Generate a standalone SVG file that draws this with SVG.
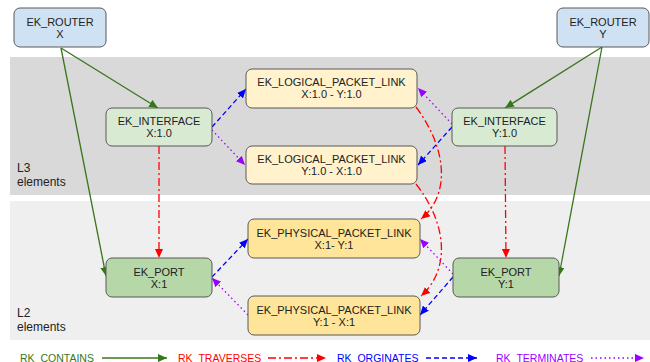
<svg xmlns="http://www.w3.org/2000/svg" width="650" height="362" viewBox="0 0 650 362">
<style>
.node rect{stroke:#595959;stroke-width:1}
.t{font-family:"Liberation Sans",Arial,sans-serif;font-size:11px;fill:#222;text-anchor:middle}
.band{font-family:"Liberation Sans",Arial,sans-serif;font-size:12px;fill:#222}
.lg{font-family:"Liberation Sans",Arial,sans-serif;font-size:10.5px}
.c{stroke:#38761d;stroke-width:1.3;fill:none}
.r{stroke:#ff0000;stroke-width:1.3;fill:none;stroke-dasharray:8,3,2,3}
.b{stroke:#0000ff;stroke-width:1.3;fill:none;stroke-dasharray:5,3}
.p{stroke:#9900ff;stroke-width:1.3;fill:none;stroke-dasharray:1.5,3}
</style>
<defs>
<marker id="mg" markerWidth="10" markerHeight="8" refX="9" refY="4" orient="auto" markerUnits="userSpaceOnUse"><path d="M0,0 L9,4 L0,8 z" fill="#38761d"/></marker>
<marker id="mr" markerWidth="10" markerHeight="8" refX="9" refY="4" orient="auto" markerUnits="userSpaceOnUse"><path d="M0,0 L9,4 L0,8 z" fill="#ff0000"/></marker>
<marker id="mb" markerWidth="10" markerHeight="8" refX="9" refY="4" orient="auto" markerUnits="userSpaceOnUse"><path d="M0,0 L9,4 L0,8 z" fill="#0000ff"/></marker>
<marker id="mp" markerWidth="10" markerHeight="8" refX="9" refY="4" orient="auto" markerUnits="userSpaceOnUse"><path d="M0,0 L9,4 L0,8 z" fill="#9900ff"/></marker>
</defs>
<rect width="650" height="362" fill="#ffffff"/>
<g id="bands">
<rect x="10" y="57" width="640" height="138" fill="#d9d9d9"/>
<rect x="10" y="201" width="640" height="139" fill="#efefef"/>
<text class="band" x="17" y="172">L3</text>
<text class="band" x="17" y="186">elements</text>
<text class="band" x="17" y="317">L2</text>
<text class="band" x="17" y="331">elements</text>
</g>
<g id="connectors">
<path class="c" d="M61,48 L158,108" marker-end="url(#mg)"/>
<path class="c" d="M61,48 L106,276" marker-end="url(#mg)"/>
<path class="c" d="M602,47 L505,108" marker-end="url(#mg)"/>
<path class="c" d="M602,47 L559,276" marker-end="url(#mg)"/>
<path class="r" d="M159,146 L159,258" marker-end="url(#mr)"/>
<path class="r" d="M505,146 L506,258" marker-end="url(#mr)"/>
<path class="r" d="M416,107 C448,150 450,195 421,219" marker-end="url(#mr)"/>
<path class="r" d="M416,184 C448,225 450,270 421,296" marker-end="url(#mr)"/>
<path class="b" d="M212,127 L246,89" marker-end="url(#mb)"/>
<path class="b" d="M452,127 L418,165" marker-end="url(#mb)"/>
<path class="b" d="M212,277 L248,239" marker-end="url(#mb)"/>
<path class="b" d="M453,277 L420,315" marker-end="url(#mb)"/>
<path class="p" d="M212,130 L245,165" marker-end="url(#mp)"/>
<path class="p" d="M452,124 L418,88" marker-end="url(#mp)"/>
<path class="p" d="M248,315 L212,278" marker-end="url(#mp)"/>
<path class="p" d="M453,274 L420,239" marker-end="url(#mp)"/>
</g>
<g id="router-x" class="node"><rect x="14" y="8" width="92" height="39" rx="6" fill="#cfe2f3"/><text class="t" x="60" y="25.5">EK_ROUTER</text><text class="t" x="60" y="37.5">X</text></g>
<g id="router-y" class="node"><rect x="557" y="8" width="92" height="39" rx="6" fill="#cfe2f3"/><text class="t" x="603" y="25.5">EK_ROUTER</text><text class="t" x="603" y="37.5">Y</text></g>
<g id="interface-x" class="node"><rect x="106" y="108" width="106" height="38" rx="6" fill="#d9ead3"/><text class="t" x="159" y="125">EK_INTERFACE</text><text class="t" x="159" y="137">X:1.0</text></g>
<g id="interface-y" class="node"><rect x="452" y="108" width="105" height="38" rx="6" fill="#d9ead3"/><text class="t" x="504.5" y="125">EK_INTERFACE</text><text class="t" x="504.5" y="137">Y:1.0</text></g>
<g id="lpl-xy" class="node"><rect x="246" y="69" width="171" height="39" rx="6" fill="#fff2cc"/><text class="t" x="331.5" y="86">EK_LOGICAL_PACKET_LINK</text><text class="t" x="331.5" y="98">X:1.0 - Y:1.0</text></g>
<g id="lpl-yx" class="node"><rect x="246" y="146" width="171" height="38" rx="6" fill="#fff2cc"/><text class="t" x="331.5" y="163">EK_LOGICAL_PACKET_LINK</text><text class="t" x="331.5" y="175">Y:1.0 - X:1.0</text></g>
<g id="port-x" class="node"><rect x="106" y="258" width="106" height="39" rx="6" fill="#b6d7a8"/><text class="t" x="159" y="275.5">EK_PORT</text><text class="t" x="159" y="287.5">X:1</text></g>
<g id="port-y" class="node"><rect x="453" y="258" width="106" height="39" rx="6" fill="#b6d7a8"/><text class="t" x="506" y="275.5">EK_PORT</text><text class="t" x="506" y="287.5">Y:1</text></g>
<g id="ppl-xy" class="node"><rect x="248" y="219" width="172" height="39" rx="6" fill="#ffe599"/><text class="t" x="334" y="236.5">EK_PHYSICAL_PACKET_LINK</text><text class="t" x="334" y="248.5">X:1- Y:1</text></g>
<g id="ppl-yx" class="node"><rect x="248" y="296" width="172" height="39" rx="6" fill="#ffe599"/><text class="t" x="334" y="313.5">EK_PHYSICAL_PACKET_LINK</text><text class="t" x="334" y="325.5">Y:1 - X:1</text></g>
<g id="legend">
<text class="lg" x="20" y="361.5" fill="#38761d">RK_CONTAINS</text>
<path class="c" d="M102,358 L167,358" marker-end="url(#mg)"/>
<text class="lg" x="178" y="361.5" fill="#ff0000">RK_TRAVERSES</text>
<path class="r" d="M268,358 L326,358" marker-end="url(#mr)"/>
<text class="lg" x="337" y="361.5" fill="#0000ff">RK_ORGINATES</text>
<path class="b" d="M426,358 L477,358" marker-end="url(#mb)"/>
<text class="lg" x="496" y="361.5" fill="#9900ff">RK_TERMINATES</text>
<path class="p" d="M591,358 L644,358" marker-end="url(#mp)"/>
</g>
</svg>
